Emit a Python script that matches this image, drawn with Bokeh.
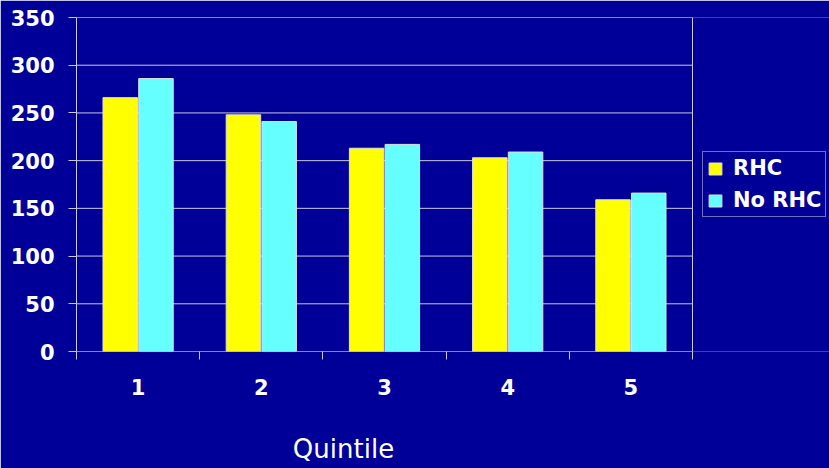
from bokeh.plotting import figure
from bokeh.models import (ColumnDataSource, Range1d, FixedTicker, Legend, LegendItem,
                          LinearAxis, Label, Span)
from bokeh.transform import dodge
from bokeh.embed import file_html
from bokeh.resources import INLINE

# Mean values by quintile, with and without right heart catheterisation
quintiles = [1, 2, 3, 4, 5]
quintile_labels = ["1", "2", "3", "4", "5"]
rhc = [266, 248, 213, 203, 159]
no_rhc = [286, 241, 217, 209, 166]
y_ticks = [0, 50, 100, 150, 200, 250, 300, 350]

BG = "#000099"
GRID = "#C8C8D8"
FONT = "DejaVu Sans"

# The plotting frame runs to the right edge so the legend can sit in it;
# the bars, axis and grid occupy the categories 0.5 .. 5.5 only.
x_lo, x_hi = 0.5, 5.5
x_end = x_hi + 137 / 123.2

source = ColumnDataSource(dict(q=quintiles, rhc=rhc, no_rhc=no_rhc))
grid_src = ColumnDataSource(dict(y=y_ticks, x0=[x_lo] * len(y_ticks),
                                 x1=[x_hi] * len(y_ticks)))

p = figure(width=829, height=468, output_backend="svg", toolbar_location=None,
           x_range=Range1d(x_lo, x_end), y_range=Range1d(0, 350),
           x_axis_type=None, y_axis_type=None,
           background_fill_color=BG, border_fill_color=BG,
           min_border_left=76, min_border_right=0,
           min_border_top=17, min_border_bottom=117)
p.outline_line_color = None
p.grid.visible = False

# Horizontal gridlines limited to the category area, closed on the right
p.segment(x0="x0", x1="x1", y0="y", y1="y", source=grid_src,
          line_color=GRID, line_width=1)
p.add_layout(Span(location=x_hi, dimension="height", line_color=GRID, line_width=1))

r1 = p.vbar(x=dodge("q", -0.145, range=p.x_range), top="rhc", width=0.28, source=source,
            fill_color="#FFFF00", line_color="#E0E0E0", line_width=1)
r2 = p.vbar(x=dodge("q", 0.145, range=p.x_range), top="no_rhc", width=0.28, source=source,
            fill_color="#66FFFF", line_color="#E0E0E0", line_width=1)

# Value axis
yaxis = LinearAxis(ticker=FixedTicker(ticks=y_ticks))
yaxis.axis_line_color = GRID
yaxis.major_tick_line_color = GRID
yaxis.major_tick_out = 8
yaxis.major_tick_in = 0
yaxis.minor_tick_line_color = None
yaxis.major_label_standoff = 14
yaxis.major_label_text_color = "white"
yaxis.major_label_text_font = FONT
yaxis.major_label_text_font_style = "bold"
yaxis.major_label_text_font_size = "21px"
p.add_layout(yaxis, "left")

# Category axis: labels at centres, tick marks between groups
xaxis = LinearAxis(ticker=FixedTicker(ticks=quintiles,
                                      minor_ticks=[q - 0.5 for q in quintiles] + [x_hi]),
                   bounds=(x_lo, x_hi))
xaxis.major_label_overrides = {q: lab for q, lab in zip(quintiles, quintile_labels)}
xaxis.axis_line_color = None
xaxis.major_tick_line_color = None
xaxis.major_tick_out = 0
xaxis.minor_tick_line_color = GRID
xaxis.minor_tick_out = 8
xaxis.minor_tick_in = 0
xaxis.major_label_standoff = 19
xaxis.major_label_text_color = "white"
xaxis.major_label_text_font = FONT
xaxis.major_label_text_font_style = "bold"
xaxis.major_label_text_font_size = "21px"
p.add_layout(xaxis, "below")

# Category axis title, placed in the lower border
p.add_layout(Label(x=267, y=-21, x_units="screen", y_units="screen", text="Quintile",
                   text_align="center", text_baseline="middle", text_color="white",
                   text_font=FONT, text_font_size="26px"), "below")

legend = Legend(items=[LegendItem(label="RHC", renderers=[r1]),
                       LegendItem(label="No RHC", renderers=[r2])],
                location=(626, 134), orientation="vertical")
legend.background_fill_color = BG
legend.background_fill_alpha = 1
legend.border_line_color = "#E0E0E0"
legend.border_line_width = 1
legend.label_text_color = "white"
legend.label_text_font = FONT
legend.label_text_font_style = "bold"
legend.label_text_font_size = "21px"
legend.glyph_width = 16
legend.glyph_height = 15
legend.label_standoff = 10
legend.label_height = 24
legend.padding = 4
legend.spacing = 8
legend.margin = 0
p.add_layout(legend, "center")

open("out.html", "w").write(file_html(p, INLINE))
